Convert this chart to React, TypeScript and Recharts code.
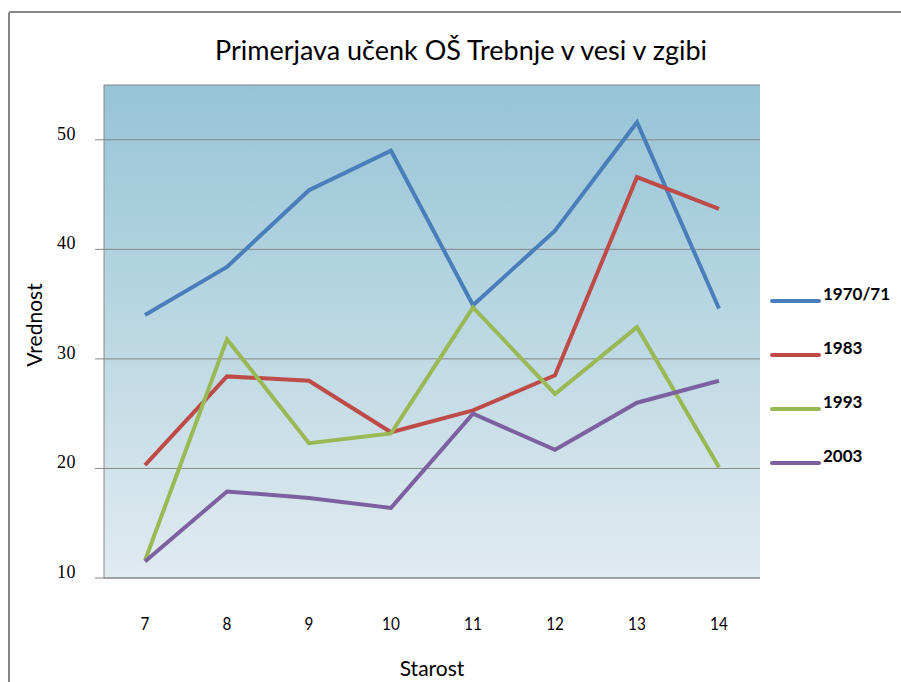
import { LineChart, Line, XAxis, YAxis, CartesianGrid } from 'recharts';

// ── Data ──────────────────────────────────────────────────────────────────────

const AGES = ['7', '8', '9', '10', '11', '12', '13', '14'];

const Y1970 = [34.0, 38.4, 45.4, 49.0, 34.9, 41.7, 51.6, 34.6];
const Y1983 = [20.3, 28.4, 28.0, 23.3, 25.3, 28.5, 46.6, 43.7];
const Y1993 = [11.6, 31.8, 22.3, 23.2, 34.7, 26.8, 32.9, 20.1];
const Y2003 = [11.5, 17.9, 17.3, 16.4, 25.0, 21.7, 26.0, 28.0];

const Y_TICKS = [10, 20, 30, 40, 50];

const SERIES = [
  { key: 'y1970', name: '1970/71', color: '#4a7ebb' },
  { key: 'y1983', name: '1983',    color: '#be4b48' },
  { key: 'y1993', name: '1993',    color: '#98b954' },
  { key: 'y2003', name: '2003',    color: '#7d60a0' },
];

const data = AGES.map((age, i) => ({
  age,
  y1970: Y1970[i],
  y1983: Y1983[i],
  y1993: Y1993[i],
  y2003: Y2003[i],
}));

const GRID = '#868686';

function XTick({ x, y, payload }: any) {
  return (
    <text x={x} y={y + 44} textAnchor="middle" fontFamily="Lato, sans-serif" fontSize={18}
      transform={`translate(${x} 0) scale(0.85 1) translate(${-x} 0)`} fill="#000">
      {payload.value}
    </text>
  );
}

function YTick({ x, y, payload }: any) {
  return (
    <text x={x - 17} y={y} textAnchor="end" fontFamily="'Liberation Serif', serif" fontSize={18}
      letterSpacing={0.5} fill="#000">
      {payload.value}
    </text>
  );
}

export default function App() {
  return (
    <div style={{ position: 'absolute', left: 0, top: 0, width: 901, height: 682, background: '#fff', overflow: 'hidden' }}>
      {/* outer frame */}
      <div style={{
        position: 'absolute', left: 8, top: 11, width: 1000, height: 800,
        borderLeft: `2px solid ${GRID}`, borderTop: `2px solid ${GRID}`, borderTopLeftRadius: 3,
      }} />

      {/* title */}
      <div style={{
        position: 'absolute', left: 0, top: 33, width: 922, textAlign: 'center',
        fontFamily: 'Lato, sans-serif', fontSize: 27, color: '#000',
      }}>
        Primerjava učenk OŠ Trebnje v vesi v zgibi
      </div>

      <div style={{ position: 'absolute', left: 0, top: 0 }}>
        <LineChart width={901} height={682} data={data}
          margin={{ top: 85, right: 141, bottom: 44, left: 54 }}>
          <defs>
            <linearGradient id="bg" x1="0" y1="0" x2="0" y2="1">
              <stop offset="0%" stopColor="#96c4d6" />
              <stop offset="100%" stopColor="#e1ebf0" />
            </linearGradient>
          </defs>
          <CartesianGrid vertical={false} stroke={GRID} fill="url(#bg)" fillOpacity={1} />
          <XAxis dataKey="age" padding={{ left: 41, right: 41 }} height={60}
            axisLine={{ stroke: GRID }} tickLine={false} tick={<XTick />} />
          <YAxis domain={[10, 55]} ticks={Y_TICKS} width={50} interval={0}
            axisLine={{ stroke: GRID }} tickLine={{ stroke: GRID }} tickSize={9} tick={<YTick />} />
          {SERIES.map(s => (
            <Line key={s.key} dataKey={s.key} name={s.name} stroke={s.color} strokeWidth={4}
              dot={false} activeDot={false} type="linear" isAnimationActive={false} />
          ))}
        </LineChart>
      </div>

      {/* axis titles */}
      <div style={{
        position: 'absolute', left: 33, top: 325, transform: 'translate(-50%, -50%) rotate(-90deg)',
        fontFamily: 'Lato, sans-serif', fontSize: 21, whiteSpace: 'nowrap',
      }}>Vrednost</div>
      <div style={{
        position: 'absolute', left: 432, top: 667, transform: 'translate(-50%, -50%)',
        fontFamily: 'Lato, sans-serif', fontSize: 21, whiteSpace: 'nowrap',
      }}>Starost</div>

      {/* legend */}
      {SERIES.map((s, i) => (
        <div key={s.key} style={{ position: 'absolute', left: 770, top: 284 + i * 54, height: 24 }}>
          <svg width={52} height={24} style={{ position: 'absolute', left: 0, top: 0 }}>
            <line x1={2} y1={17} x2={49} y2={17} stroke={s.color} strokeWidth={4} strokeLinecap="round" />
          </svg>
          <span style={{
            position: 'absolute', left: 53, top: -1, fontFamily: 'Lato, sans-serif', fontSize: 17,
            fontWeight: 700, whiteSpace: 'nowrap',
          }}>{s.name}</span>
        </div>
      ))}
    </div>
  );
}
